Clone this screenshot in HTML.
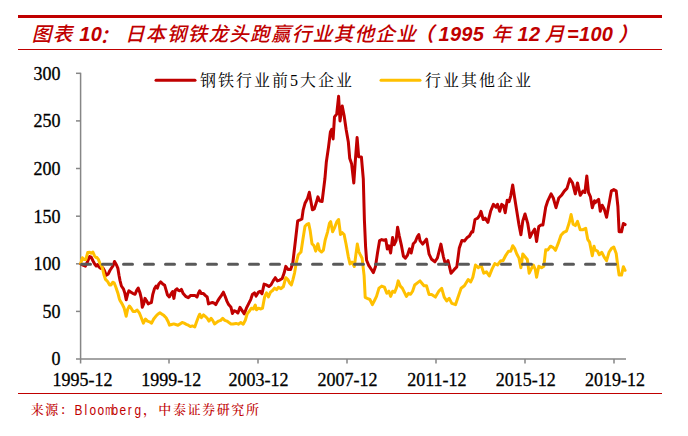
<!DOCTYPE html>
<html><head><meta charset="utf-8"><title>chart</title><style>
html,body{margin:0;padding:0;background:#fff;}
body{width:688px;height:436px;position:relative;overflow:hidden;}
.rule{position:absolute;left:18px;width:644px;background:#C00000;}
.title{position:absolute;left:0px;width:688px;top:17px;height:30px;line-height:30px;font-size:20.5px;font-weight:bold;font-style:italic;color:#C00000;white-space:nowrap;font-family:"Liberation Sans","Noto Sans CJK SC",sans-serif;}
.title span{position:absolute;top:0;}
.title .la{top:1.6px;font-size:20px;letter-spacing:0.3px;}
.title .cjk{font-family:"Noto Sans CJK SC",sans-serif;font-weight:500;top:0.5px;font-size:19.6px;letter-spacing:1.27px;margin-left:0.65px;}
.legend{position:absolute;top:69px;height:24px;line-height:24px;font-size:16px;color:#000;white-space:nowrap;font-family:"Liberation Serif","Noto Serif CJK SC",serif;letter-spacing:2px;}
.src span{position:absolute;top:0;}
.src{position:absolute;left:0px;top:398px;height:22px;line-height:22px;font-size:14.6px;color:#C00000;white-space:nowrap;font-family:"Noto Serif CJK SC",serif;}
.src .lat{font-family:"Liberation Sans",sans-serif;font-size:14px;top:1.3px !important;}
.src .lat i{font-style:normal;display:inline-block;width:7.48px;text-align:center;transform:scaleX(.85);}
.src .lat i.m{transform:scaleX(.66);}
.src .c{font-size:13px;letter-spacing:1.6px;font-weight:500;}
</style></head><body>
<div class="rule" style="top:15px;height:3px"></div>
<div class="title"><span class="cjk" style="left:31.2px">图表</span><span class="la" style="left:79.3px">10</span><span class="cjk" style="left:98.6px;top:2.8px">：</span><span class="cjk" style="left:124.3px">日本钢铁龙头跑赢行业其他企业</span><span class="cjk" style="left:413.5px;font-weight:700">（</span><span class="la" style="left:438.5px">1995</span><span class="cjk" style="left:490.8px">年</span><span class="la" style="left:517.5px">12</span><span class="cjk" style="left:544.2px">月</span><span class="la" style="left:567px">=100</span><span class="cjk" style="left:617.5px;font-weight:700">）</span></div>
<div class="rule" style="top:49px;height:1px"></div>
<svg width="688" height="436" viewBox="0 0 688 436" style="position:absolute;left:0;top:0"><g stroke="#868686" stroke-width="1.5" fill="none" shape-rendering="auto"><line x1="80.6" y1="72.8" x2="80.6" y2="363.5"/><line x1="76" y1="359" x2="626" y2="359"/><line x1="76" y1="311.4" x2="80.6" y2="311.4"/><line x1="76" y1="263.8" x2="80.6" y2="263.8"/><line x1="76" y1="216.2" x2="80.6" y2="216.2"/><line x1="76" y1="168.5" x2="80.6" y2="168.5"/><line x1="76" y1="120.9" x2="80.6" y2="120.9"/><line x1="76" y1="73.3" x2="80.6" y2="73.3"/><line x1="169.0" y1="359" x2="169.0" y2="363.5"/><line x1="258.0" y1="359" x2="258.0" y2="363.5"/><line x1="347.0" y1="359" x2="347.0" y2="363.5"/><line x1="436.0" y1="359" x2="436.0" y2="363.5"/><line x1="525.0" y1="359" x2="525.0" y2="363.5"/><line x1="614.0" y1="359" x2="614.0" y2="363.5"/></g><g font-family="Liberation Serif, serif" font-size="18" fill="#000" stroke="#000" stroke-width="0.3" text-anchor="end"><text x="60.5" y="365.4">0</text><text x="60.5" y="317.8">50</text><text x="60.5" y="270.2">100</text><text x="60.5" y="222.6">150</text><text x="60.5" y="174.9">200</text><text x="60.5" y="127.3">250</text><text x="60.5" y="79.7">300</text></g><g font-family="Liberation Serif, serif" font-size="18" fill="#000" stroke="#000" stroke-width="0.3" text-anchor="middle"><text x="82.5" y="385.5">1995-12</text><text x="171.2" y="385.5">1999-12</text><text x="258.5" y="385.5">2003-12</text><text x="347.6" y="385.5">2007-12</text><text x="436.8" y="385.5">2011-12</text><text x="525.8" y="385.5">2015-12</text><text x="614.9" y="385.5">2019-12</text></g><polyline points="80.7,263.8 83.0,265.2 85.4,266.2 87.6,261.5 89.6,256.5 91.2,257.2 93.3,261.5 94.8,264.3 96.2,266.0 97.5,264.5 98.9,266.8 100.7,268.4 102.8,267.7 104.4,270.5 106.2,275.3 108.3,273.9 109.9,270.5 111.7,267.7 113.1,265.6 114.5,261.5 116.5,265.0 117.9,268.4 119.0,275.3 120.0,280.5 121.4,286.0 123.4,288.8 124.8,292.9 126.2,299.8 127.6,294.3 128.9,290.8 131.0,292.2 133.1,293.6 135.1,294.3 136.8,290.1 138.2,288.1 140.0,292.9 141.3,298.4 142.3,307.3 143.7,303.9 145.0,298.4 146.4,300.5 148.2,303.9 149.6,303.2 151.4,302.5 152.8,294.3 154.4,288.8 156.1,286.0 157.4,288.1 158.8,283.9 160.6,281.9 162.7,283.9 164.7,285.3 166.1,290.1 167.5,295.0 169.3,297.0 171.2,293.6 172.6,291.5 173.9,298.4 175.3,290.1 177.1,288.8 178.0,290.1 179.7,290.8 181.4,289.4 183.2,293.6 185.6,296.3 188.3,297.7 190.4,295.6 193.1,295.6 195.2,295.6 197.0,297.0 198.6,292.9 199.7,290.8 201.4,293.6 203.5,293.6 205.5,295.6 207.2,297.0 208.5,303.9 210.3,303.2 212.4,302.5 214.1,303.2 215.8,304.6 217.6,301.1 219.3,298.4 221.3,295.6 223.4,292.2 225.1,296.3 226.9,301.1 228.6,304.6 231.0,307.3 232.4,313.5 234.1,310.8 236.0,311.4 237.9,313.0 240.0,307.4 242.1,310.6 244.3,313.8 246.4,308.2 248.8,303.3 250.8,299.3 252.4,294.5 254.5,292.9 256.1,296.1 258.5,292.1 260.1,291.3 262.0,293.7 264.1,284.1 266.5,284.9 268.9,286.5 271.0,284.9 273.2,280.9 275.3,277.7 277.4,280.9 279.7,280.1 282.2,278.5 284.2,272.8 285.8,266.4 288.2,269.6 290.6,269.6 292.8,263.0 295.5,240.0 297.7,220.8 300.1,219.9 301.9,219.0 303.2,209.8 305.0,203.3 307.4,198.8 309.3,192.3 310.6,199.7 312.4,209.8 314.2,208.9 316.1,203.3 317.9,196.9 319.7,201.0 322.1,201.5 324.9,178.8 326.3,162.3 328.5,147.2 330.4,132.0 331.8,129.3 333.1,138.9 334.5,116.9 336.7,114.1 338.6,96.3 340.0,121.0 342.2,105.9 344.1,115.5 346.1,129.3 348.3,141.7 349.7,158.2 351.6,163.7 353.8,183.0 355.2,162.3 357.1,137.5 358.7,156.8 361.4,157.0 363.3,178.8 364.4,220.0 365.6,246.8 366.6,260.3 368.7,265.4 371.4,269.5 373.4,272.6 375.5,266.4 377.5,253.0 379.6,240.6 381.7,239.6 383.7,240.2 385.8,239.6 387.3,248.9 388.9,245.8 390.6,253.0 392.6,237.5 394.1,244.8 396.1,240.6 397.6,227.2 399.2,235.5 401.3,244.8 403.4,256.1 405.4,258.2 407.5,255.1 409.5,248.9 411.2,253.0 413.3,243.7 415.3,241.7 417.4,236.5 418.8,234.5 420.0,240.6 422.7,244.1 426.5,239.1 429.1,254.2 431.6,259.3 434.9,261.8 437.4,258.0 440.9,244.1 443.4,256.8 445.5,264.3 448.0,260.5 451.0,273.2 454.3,269.4 456.8,266.9 459.3,247.9 461.9,240.4 464.4,241.0 466.9,237.8 469.4,236.0 471.9,231.5 472.8,231.9 475.0,219.5 477.7,218.2 479.6,215.4 481.0,211.3 483.2,219.5 485.1,218.2 487.9,222.3 490.6,211.3 493.4,204.4 496.1,207.2 497.5,204.4 499.7,211.3 501.7,204.4 503.6,205.8 505.2,212.7 507.2,200.3 509.1,201.7 510.7,196.1 512.7,185.1 514.6,197.5 516.8,211.3 519.0,225.0 520.9,234.7 522.8,220.9 525.0,214.0 527.8,223.7 530.0,237.4 531.9,233.3 534.7,229.2 536.6,241.6 538.8,226.4 541.0,225.0 542.9,225.0 545.7,207.2 547.8,200.8 551.1,193.9 553.3,198.0 556.0,207.7 558.8,198.0 561.5,195.3 564.3,191.1 567.0,188.4 569.8,178.8 572.5,182.9 575.3,193.9 577.5,182.9 580.2,195.3 583.0,191.1 584.9,192.5 586.8,176.0 588.5,192.5 590.4,196.6 592.3,207.7 594.5,200.8 595.0,202.9 598.6,199.3 600.3,211.3 602.2,205.3 604.2,208.9 606.6,217.3 609.0,204.1 611.4,190.8 613.8,189.6 616.2,190.8 617.9,206.5 619.1,231.8 621.5,231.8 623.4,223.4 625.1,224.6" fill="none" stroke="#C00000" stroke-width="3" stroke-linejoin="round" stroke-linecap="round"/><polyline points="80.7,263.6 82.4,257.8 84.2,259.6 85.8,259.6 87.7,252.6 89.7,252.3 91.1,253.2 92.9,252.0 94.4,255.6 95.8,257.4 97.0,257.6 98.4,259.4 99.8,263.0 100.7,264.3 102.5,268.4 104.1,275.3 105.5,279.4 107.6,281.5 109.6,284.9 111.0,284.9 112.7,282.2 114.1,282.8 115.8,287.0 117.9,293.2 119.3,298.7 120.0,300.5 122.1,303.9 124.1,308.0 126.2,316.3 127.6,309.4 129.4,306.0 131.0,308.0 133.1,311.5 135.1,311.5 137.2,310.1 139.3,312.8 141.3,317.7 143.4,323.2 145.5,319.0 147.5,321.1 149.6,321.8 151.6,323.2 153.7,319.0 155.8,316.3 157.8,314.2 159.9,312.8 162.0,314.2 164.0,315.6 166.1,317.7 168.2,321.8 169.5,325.2 171.6,324.5 173.7,323.9 175.7,324.5 178.0,325.2 180.1,323.9 182.1,322.5 184.2,323.2 186.3,324.3 188.3,325.2 190.4,326.6 192.4,325.9 194.8,327.0 196.6,321.8 198.4,317.0 199.7,314.2 201.4,317.7 203.5,314.9 205.2,316.3 207.2,318.3 209.0,321.1 211.0,318.3 212.7,320.4 214.5,323.9 216.5,322.5 218.6,321.1 220.7,320.4 222.7,318.3 224.8,320.4 226.9,321.1 228.9,322.5 231.0,323.9 233.0,323.9 236.0,323.4 238.4,324.2 240.8,322.6 243.2,324.2 245.3,320.2 247.2,313.8 249.2,311.4 251.3,308.2 253.3,309.0 255.3,305.0 256.5,309.8 258.5,308.2 260.9,309.0 262.5,308.2 264.6,296.9 266.5,292.9 268.4,296.9 270.5,292.1 272.6,290.5 274.5,288.1 276.5,289.7 278.5,287.3 281.0,288.6 283.4,286.5 285.8,277.7 287.7,279.3 289.8,283.3 291.4,284.9 293.0,279.3 294.6,272.8 296.4,262.0 298.3,254.7 301.0,252.0 302.8,240.0 305.0,226.3 306.9,224.4 308.7,223.5 310.2,230.9 312.0,243.7 313.9,245.6 315.7,251.1 317.9,243.7 319.4,250.1 321.6,252.0 323.4,250.1 325.2,240.0 327.6,231.8 329.4,223.5 330.7,221.7 332.6,231.8 334.4,228.1 336.8,221.7 338.6,219.5 340.5,234.5 342.3,232.7 344.1,234.5 346.0,243.7 348.3,256.6 350.0,263.9 352.0,262.0 354.3,266.5 357.3,244.1 358.8,251.6 360.0,254.1 362.1,258.2 364.1,275.7 365.2,297.4 367.2,298.4 369.9,299.5 372.4,304.6 374.5,300.5 376.5,296.4 379.0,288.1 381.7,286.1 384.4,287.1 386.8,293.3 388.9,291.2 390.6,296.4 392.6,291.2 394.7,292.3 396.7,287.1 398.2,280.9 400.3,286.1 402.3,288.1 404.4,292.3 406.4,296.4 408.5,293.3 410.6,294.3 412.6,291.2 414.7,285.0 417.4,282.9 420.0,280.9 422.5,284.0 424.0,285.8 426.5,285.8 429.1,294.6 431.6,294.6 435.4,297.1 439.1,290.8 441.7,288.3 444.2,297.1 446.7,300.9 449.2,298.4 451.8,303.4 455.5,304.7 458.1,297.1 461.1,288.3 464.4,285.8 468.2,279.5 470.7,282.0 472.8,277.4 475.5,265.0 478.3,267.7 481.0,265.0 483.8,273.2 486.5,271.8 489.3,276.0 492.0,269.1 494.8,263.6 497.5,265.0 500.8,260.8 503.0,260.8 505.8,255.3 508.5,251.2 510.7,251.2 512.7,245.7 514.6,248.4 516.8,254.0 519.0,258.1 520.9,267.7 522.8,254.0 525.0,256.7 527.3,259.5 529.2,273.2 531.1,269.1 533.3,265.0 535.2,269.1 536.6,277.3 538.8,266.3 541.6,267.7 543.8,266.3 545.7,249.8 547.8,250.0 550.5,246.2 553.3,247.6 555.5,250.3 558.2,243.4 561.0,235.2 563.7,232.4 566.5,231.1 569.2,222.8 571.1,214.5 573.1,224.2 575.3,225.6 577.5,221.4 580.2,229.7 583.0,229.7 585.7,228.3 587.7,239.3 589.6,242.1 592.3,255.8 594.0,246.2 595.0,249.8 597.4,251.0 599.3,254.7 601.7,252.3 604.2,257.1 606.6,260.7 609.0,252.3 611.4,248.6 613.8,247.0 616.2,253.5 617.9,266.7 619.1,275.1 621.5,275.1 623.4,266.7 625.1,270.3" fill="none" stroke="#FFC000" stroke-width="3" stroke-linejoin="round" stroke-linecap="round"/><line x1="81.5" y1="264.2" x2="626" y2="264.2" stroke="#595959" stroke-width="3" stroke-dasharray="9 12" stroke-linecap="round"/><line x1="156" y1="80.2" x2="195" y2="80.2" stroke="#C00000" stroke-width="3" stroke-linecap="round"/><line x1="381" y1="80.2" x2="420" y2="80.2" stroke="#FFC000" stroke-width="3" stroke-linecap="round"/></svg>
<div class="legend" style="left:200px">钢铁行业前5大企业</div>
<div class="legend" style="left:425px">行业其他企业</div>
<div class="rule" style="top:393px;height:1px"></div>
<div class="src"><span class="c" style="left:30.7px">来源：</span><span class="lat" style="left:74.1px"><i>B</i><i>l</i><i>o</i><i>o</i><i class="m">m</i><i>b</i><i>e</i><i>r</i><i>g</i></span><span class="c" style="left:143px">，</span><span class="c" style="left:158.3px">中泰证券研究所</span></div>
</body></html>
